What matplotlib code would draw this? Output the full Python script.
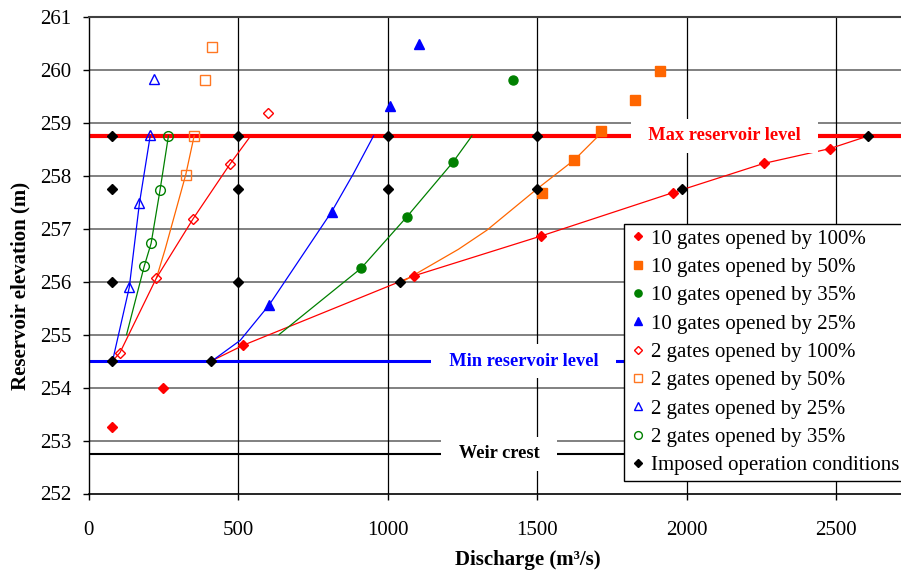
import matplotlib
matplotlib.use("Agg")
import matplotlib.pyplot as plt

plt.rcParams['font.family'] = ['Liberation Serif', 'DejaVu Serif']

# ---------------- data ----------------
max_level = 258.75
min_level = 254.5
weir_crest = 252.75

# markers
q_10_100 = [77, 250, 518, 1089, 1513, 1955, 2258, 2479]
h_10_100 = [253.26, 254.0, 254.8, 256.11, 256.86, 257.68, 258.23, 258.51]
q_10_50 = [1516, 1625, 1714, 1826, 1912]
h_10_50 = [257.68, 258.30, 258.85, 259.43, 259.98]
q_10_35 = [911, 1064, 1218, 1418]
h_10_35 = [256.25, 257.22, 258.25, 259.81]
q_10_25 = [604, 813, 1008, 1104]
h_10_25 = [255.56, 257.32, 259.32, 260.49]
q_2_100 = [105, 227, 350, 473, 601]
h_2_100 = [254.66, 256.07, 257.19, 258.22, 259.18]
q_2_50 = [325, 353, 390, 414]
h_2_50 = [258.02, 258.75, 259.81, 260.42]
q_2_25 = [136, 170, 206, 219]
h_2_25 = [255.89, 257.48, 258.77, 259.83]
q_2_35 = [186, 209, 239, 267]
h_2_35 = [256.29, 256.72, 257.73, 258.75]
q_imp = [77, 77, 77, 77, 500, 500, 500, 410, 1000, 1000, 1040, 1500, 1500, 1983, 2608]
h_imp = [258.75, 257.75, 256.0, 254.5, 258.75, 257.75, 256.0, 254.5, 258.75, 257.75,
         256.0, 258.75, 257.75, 257.75, 258.75]

# fitted curves
cq_10_100 = [410, 518, 1089, 1513, 1955, 2258, 2479, 2608]
ch_10_100 = [254.5, 254.8, 256.11, 256.86, 257.68, 258.23, 258.51, 258.75]
cq_10_50 = [1050, 1237, 1332, 1500, 1625, 1705]
ch_10_50 = [256.0, 256.61, 256.97, 257.75, 258.30, 258.75]
cq_10_35 = [637, 911, 1064, 1218, 1282]
ch_10_35 = [255.0, 256.25, 257.22, 258.25, 258.75]
cq_10_25 = [412, 507, 604, 813, 886, 953]
ch_10_25 = [254.5, 254.89, 255.56, 257.32, 258.04, 258.75]
cq_2_100 = [80, 105, 227, 350, 473, 542]
ch_2_100 = [254.5, 254.66, 256.07, 257.19, 258.22, 258.75]
cq_2_50 = [227, 256, 325, 353]
ch_2_50 = [256.07, 256.61, 258.02, 258.75]
cq_2_25 = [80, 136, 170, 206]
ch_2_25 = [254.5, 255.89, 257.48, 258.75]
cq_2_35 = [127, 186, 209, 239, 267]
ch_2_35 = [255.0, 256.29, 256.72, 257.73, 258.75]

labels = ["10 gates opened by 100%", "10 gates opened by 50%", "10 gates opened by 35%",
          "10 gates opened by 25%", "2 gates opened by 100%", "2 gates opened by 50%",
          "2 gates opened by 25%", "2 gates opened by 35%", "Imposed operation conditions"]

RED = "#FF0000"
ORANGE = "#FF6600"
GREEN = "#008000"
BLUE = "#0000FF"

fig = plt.figure(figsize=(9.01, 5.71), dpi=100)
W, H = 901, 571
x0_px, y_top_px, y_bot_px = 88.6, 16.7, 493.5
px_per_unit = 0.299
xmax = 3000
ax = fig.add_axes([x0_px / W, 1 - y_bot_px / H, xmax * px_per_unit / W, (y_bot_px - y_top_px) / H])
ax.set_xlim(0, xmax)
ax.set_ylim(252, 261)
ax.set_xticks([0, 500, 1000, 1500, 2000, 2500])
ax.set_yticks(range(252, 262))

ax.grid(False)
for yv in range(253, 262):
    ax.axhline(yv, color="#808080", lw=1.4, zorder=0.5)
for xv in [500, 1000, 1500, 2000, 2500]:
    ax.axvline(xv, color="black", lw=0.9, zorder=0.6)

ax.spines["right"].set_visible(False)
ax.spines["top"].set_color("#404040")
ax.spines["top"].set_linewidth(1.5)
ax.spines["left"].set_linewidth(1.0)
ax.spines["bottom"].set_linewidth(1.2)
ax.tick_params(direction="out", length=4.5, width=1.0, labelsize=15, pad=8)
ax.tick_params(axis="x", pad=15)

# reference levels
ax.axhline(max_level, color=RED, lw=3.0, zorder=2)
ax.axhline(min_level, color=BLUE, lw=2.2, zorder=2)
ax.axhline(weir_crest, color="black", lw=1.5, zorder=2)

lw = 0.9
ax.plot(cq_10_100, ch_10_100, color=RED, lw=lw, zorder=3)
ax.plot(cq_10_50, ch_10_50, color=ORANGE, lw=lw, zorder=3)
ax.plot(cq_10_35, ch_10_35, color=GREEN, lw=lw, zorder=3)
ax.plot(cq_10_25, ch_10_25, color=BLUE, lw=lw, zorder=3)
ax.plot(cq_2_50, ch_2_50, color=ORANGE, lw=lw, zorder=3)
ax.plot(cq_2_100, ch_2_100, color=RED, lw=lw, zorder=3.1)
ax.plot(cq_2_25, ch_2_25, color=BLUE, lw=lw, zorder=3)
ax.plot(cq_2_35, ch_2_35, color=GREEN, lw=lw, zorder=3)

h = []
h.append(ax.plot(q_10_100, h_10_100, ls="none", marker="D", ms=5, color=RED, mec=RED, zorder=5)[0])
h.append(ax.plot(q_10_50, h_10_50, ls="none", marker="s", ms=6.5, color=ORANGE, mec=ORANGE, zorder=5)[0])
h.append(ax.plot(q_10_35, h_10_35, ls="none", marker="o", ms=6.5, color=GREEN, mec=GREEN, zorder=5)[0])
h.append(ax.plot(q_10_25, h_10_25, ls="none", marker="^", ms=6.5, color=BLUE, mec=BLUE, zorder=5)[0])
h.append(ax.plot(q_2_100, h_2_100, ls="none", marker="D", ms=5, mfc="none", mec=RED, mew=1.0, zorder=5)[0])
h.append(ax.plot(q_2_50, h_2_50, ls="none", marker="s", ms=7, mfc="none", mec="#FF7722", mew=1.0, zorder=5)[0])
h.append(ax.plot(q_2_25, h_2_25, ls="none", marker="^", ms=7, mfc="none", mec=BLUE, mew=1.0, zorder=5)[0])
h.append(ax.plot(q_2_35, h_2_35, ls="none", marker="o", ms=7, mfc="none", mec=GREEN, mew=1.0, zorder=5)[0])
h.append(ax.plot(q_imp, h_imp, ls="none", marker="D", ms=5, color="black", mec="black", zorder=6)[0])

# level labels
lab_fs = 13.2
box = dict(boxstyle="square,pad=0.45", fc="white", ec="none")
ax.text(2127, max_level, "  Max reservoir level  ", color=RED, fontsize=lab_fs, fontweight="bold",
        ha="center", va="center", zorder=4, bbox=box)
ax.text(1455, min_level, "  Min reservoir level  ", color=BLUE, fontsize=lab_fs, fontweight="bold",
        ha="center", va="center", zorder=4, bbox=box)
ax.text(1373, weir_crest, "  Weir crest  ", color="black", fontsize=lab_fs, fontweight="bold",
        ha="center", va="center", zorder=4, bbox=box)

leg = fig.legend(h, labels, loc="upper left", bbox_to_anchor=(624 / W, 1 - 224 / H),
                 fontsize=15, frameon=True, fancybox=False, framealpha=1, edgecolor="black",
                 handlelength=0.8, handletextpad=0.25, borderpad=0.25, labelspacing=0.42,
                 borderaxespad=0, markerscale=0.8)
leg.get_frame().set_linewidth(1.0)
leg.set_zorder(10)

fig.text(528 / W, 1 - 560 / H, "Discharge (m³/s)", fontsize=15, fontweight="bold",
         ha="center", va="center")
fig.text(20 / W, 1 - 286 / H, "Reservoir elevation (m)", fontsize=15, fontweight="bold",
         ha="center", va="center", rotation=90)

fig.savefig("out.png", dpi=100)
